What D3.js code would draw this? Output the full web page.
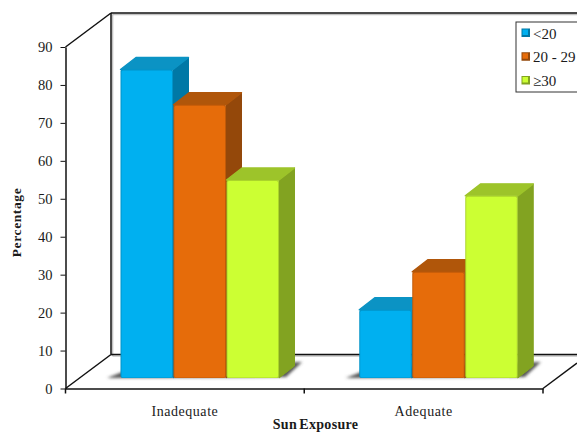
<!DOCTYPE html>
<html>
<head>
<meta charset="utf-8">
<script src="https://cdn.jsdelivr.net/npm/d3@7"></script>
<style>
html,body{margin:0;padding:0;background:#fff;overflow:hidden}
svg{display:block}
text{font-family:"Liberation Serif",serif;fill:#1a1a1a}
</style>
</head>
<body>
<svg id="chart" width="577" height="432"></svg>
<script>
// Sun exposure by age group, drawn as a 3D clustered column chart
const categories = ["Inadequate", "Adequate"];
const seriesNames = ["<20", "20 - 29", "≥30"];
const under20 = [81.3, 18];
const from20to29 = [72, 28];
const over30 = [52.2, 48];
const yTicks = [0, 10, 20, 30, 40, 50, 60, 70, 80, 90];

const faces = [
  {front: "#00b0f0", top: "#0b93c4", side: "#0078a6"},
  {front: "#e66c0a", top: "#b0560a", side: "#94480a"},
  {front: "#ccff33", top: "#9dc42a", side: "#82a321"}
];
const seriesValues = [under20, from20to29, over30];

const svg = d3.select("#chart");
const W = {x0: 65.5, x1: 543, yBase: 388.5, yTop: 47, dx: 45.5, dy: -34};
const barDepth = {dx: 15.5, dy: -12};
const barBase = 378;
const barOffset = 54.5;

const x = d3.scaleBand().domain(categories).range([W.x0, W.x1]);
const y = d3.scaleLinear().domain([0, 90]).range([W.yBase, W.yTop]);
const inner = d3.scaleBand().domain(d3.range(3)).range([0, 159]);

const defs = svg.append("defs");
const soft = defs.append("filter").attr("id", "soft").attr("x", "-30%").attr("y", "-60%").attr("width", "160%").attr("height", "220%");
soft.append("feGaussianBlur").attr("stdDeviation", 1.7);

// Frame of the box: wall and floor edges, each with a faint grey edge inside
const frame = [
  [[W.x0 + W.dx, W.yBase + W.dy], [W.x0 + W.dx, W.yTop + W.dy]],
  [[W.x0 + W.dx, W.yTop + W.dy], [577, W.yTop + W.dy]],
  [[W.x0, W.yTop], [W.x0 + W.dx, W.yTop + W.dy]],
  [[W.x0, W.yBase], [W.x0 + W.dx, W.yBase + W.dy]],
  [[W.x0 + W.dx, W.yBase + W.dy], [577, W.yBase + W.dy]],
  [[W.x1, W.yBase], [577, W.yBase - 25.5]]
];
const line = d3.line();
const haze = [frame[0], frame[1], frame[4]];
svg.append("g").selectAll("path").data(haze).join("path")
  .attr("d", d => line(d.map(p => [p[0] + 1.5, p[1] + 1.5])))
  .attr("stroke", "#9a9a9a").attr("stroke-width", 1.6).attr("fill", "none").attr("opacity", 0.6);
svg.append("g").selectAll("path").data(frame).join("path")
  .attr("d", line).attr("stroke", "#111").attr("stroke-width", 1.5).attr("fill", "none");

// Left and bottom axes
const yAxis = d3.axisLeft(y).tickValues(yTicks).tickSize(5).tickPadding(8).tickSizeOuter(0);
const gy = svg.append("g").attr("transform", `translate(${W.x0},0)`).call(yAxis);
gy.selectAll("text").style("font-size", "14.5px").attr("dy", "0.33em");
const xAxis = d3.axisBottom(x).tickSize(0).tickPadding(17.5);
const gx = svg.append("g").attr("transform", `translate(0,${W.yBase})`).call(xAxis);
gx.selectAll("text").style("font-size", "14px").style("letter-spacing", "0.55px").attr("dy", "0.71em");
svg.append("g").selectAll("line").data([W.x0, (W.x0 + W.x1) / 2, W.x1]).join("line")
  .attr("x1", d => d).attr("x2", d => d).attr("y1", W.yBase).attr("y2", W.yBase + 5)
  .attr("stroke", "#111").attr("stroke-width", 1.5);
[gy, gx].forEach(g => {
  g.selectAll("path.domain").attr("stroke", "#111").attr("stroke-width", 1.5);
  g.selectAll(".tick line").attr("stroke", "#111").attr("stroke-width", 1);
});

// Ground shadow under each group of bars
categories.forEach(c => {
  const left = x(c) + barOffset;
  const pts = [[left - 13, barBase], [left + 166, barBase - 1], [left + 182, barBase - 16], [left + 10, barBase - 9]];
  svg.append("polygon").attr("points", pts.join(" "))
    .attr("fill", "#555").attr("filter", "url(#soft)");
});

// Bars: side and top faces first, then the front, in series order
const bars = svg.append("g");
seriesValues.forEach((vals, s) => {
  categories.forEach((c, i) => {
    const x0 = x(c) + barOffset + inner(s) + 0.5;
    const x1 = x0 + inner.bandwidth() - 0.5;
    const h = (y(0) - y(vals[i]));
    const yt = barBase - h;
    const f = faces[s];
    const g = bars.append("g");
    const dx = barDepth.dx, dy = barDepth.dy;
    g.append("polygon").attr("points", [[x1, yt], [x1 + dx, yt + dy], [x1 + dx, barBase + dy], [x1, barBase]].join(" "))
      .attr("fill", f.side).attr("stroke", f.side).attr("stroke-width", 1).attr("stroke-linejoin", "round");
    g.append("polygon").attr("points", [[x0, yt], [x0 + dx, yt + dy], [x1 + dx, yt + dy], [x1, yt]].join(" "))
      .attr("fill", f.top).attr("stroke", f.top).attr("stroke-width", 1.4).attr("stroke-linejoin", "round");
    g.append("rect").attr("x", x0).attr("y", yt).attr("width", x1 - x0).attr("height", h)
      .attr("rx", 2).attr("fill", d3.color(f.front).darker(0.5));
    g.append("rect").attr("x", x0 + 1).attr("y", yt + 1).attr("width", x1 - x0 - 2).attr("height", h - 1.5)
      .attr("rx", 1.5).attr("fill", f.front);
  });
});

// Axis titles
svg.append("text").attr("transform", "translate(21,222.5) rotate(-90)")
  .attr("text-anchor", "middle").attr("font-weight", "bold").style("font-size", "13.5px")
  .style("letter-spacing", "0.6px").text("Percentage");
svg.append("text").attr("x", 315.5).attr("y", 428.5)
  .attr("text-anchor", "middle").attr("font-weight", "bold").style("font-size", "14px")
  .style("letter-spacing", "0.3px").style("word-spacing", "-1.5px").text("Sun Exposure");

// Legend
const legend = svg.append("g");
legend.append("rect").attr("x", 516).attr("y", 22).attr("width", 70).attr("height", 70)
  .attr("fill", "#fff").attr("stroke", "#333").attr("stroke-width", 1);
const legendY = d3.scalePoint().domain(d3.range(3)).range([33, 80.5]);
seriesNames.forEach((name, s) => {
  const f = faces[s];
  const cy = legendY(s);
  const g = legend.append("g");
  g.append("rect").attr("x", 521.5).attr("y", cy - 4.5).attr("width", 8.5).attr("height", 8.5).attr("fill", f.side);
  g.append("rect").attr("x", 522.5).attr("y", cy - 3.5).attr("width", 5.5).attr("height", 5.5).attr("fill", f.front);
  g.append("text").attr("x", 533).attr("y", cy + 5.5).style("font-size", "15px").text(name);
});
</script>
</body>
</html>
